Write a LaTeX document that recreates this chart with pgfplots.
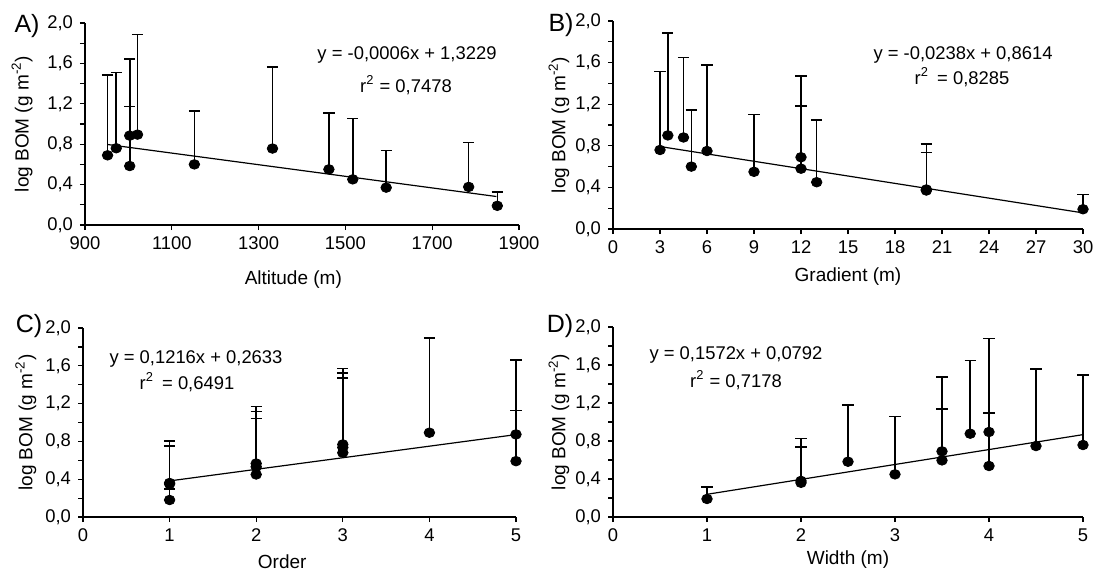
\documentclass[border=0pt]{standalone}
\usepackage{fontspec}
\setmainfont{Liberation Sans}
\usepackage{pgfplots}
\pgfplotsset{compat=1.18}

\pgfplotsset{
  bomaxis/.style={
    scale only axis,
    axis lines=left,
    axis line style={-, line width=0.6pt},
    tick align=outside,
    major tick length=2.5pt,
    minor tick length=2.5pt,
    tick style={line width=0.6pt, black},
    ymin=0, ymax=2,
    ytick={0,0.4,0.8,1.2,1.6,2.0},
    minor y tick num=1,
    yticklabel style={/pgf/number format/.cd, fixed, fixed zerofill, precision=1, use comma},
    xticklabel style={/pgf/number format/.cd, fixed, 1000 sep={}},
    /pgf/number format/assume math mode=true,
    tick label style={font=\fontsize{9.2}{10}\selectfont},
    label style={font=\fontsize{9.5}{11}\selectfont},
    ylabel={log BOM (g m\textsuperscript{-2})},
    clip=false,
  },
  pts/.style={
    only marks, mark=*, mark size=2.4pt, black,
    mark options={xscale=1.1},
    error bars/.cd, y dir=plus, y explicit,
    error bar style={line width=0.8pt, black},
    error mark options={rotate=90, line width=0.8pt, mark size=2.8pt, black},
  },
  fit/.style={no marks, black, line width=0.6pt},
}

\begin{document}
\begin{tikzpicture}
\useasboundingbox (0,0) rectangle (548pt,287pt);

% A) altitude
\begin{axis}[bomaxis,
    at={(42.5pt,174.5pt)}, anchor=south west,
    width=217pt, height=101pt,
    xmin=900, xmax=1900, xtick={900,1100,1300,1500,1700,1900},
    xlabel={Altitude (m)},
    xlabel style={at={(axis description cs:0.48,-0.272)}, anchor=center},
    ylabel style={at={(axis description cs:-0.145,0.5)}, anchor=center},
]
\addplot[pts] table[x=x, y=y, y error=e] {
x y e
952 0.69 0.795
972 0.76 0.75
1003 0.885 0.76
1003 0.584 0.59
1021 0.895 0.99
1152 0.60 0.53
1332 0.757 0.807
1462 0.551 0.557
1517 0.452 0.604
1594 0.37 0.368
1784 0.377 0.439
1850 0.19 0.135
};
\addplot[fit] coordinates {(952,0.797) (1848,0.282)};
\end{axis}

% B) gradient
\begin{axis}[bomaxis,
    at={(306.5pt,172.5pt)}, anchor=south west,
    width=235pt, height=104pt,
    xmin=0, xmax=30, xtick={0,3,6,9,12,15,18,21,24,27,30},
    xlabel={Gradient (m)},
    xlabel style={at={(axis description cs:0.5,-0.23)}, anchor=center},
    ylabel style={at={(axis description cs:-0.115,0.5)}, anchor=center},
]
\addplot[pts] table[x=x, y=y, y error=e] {
x y e
3.0 0.76 0.755
3.5 0.90 0.983
4.5 0.88 0.77
5.0 0.60 0.546
6.0 0.75 0.826
9.0 0.55 0.55
12.0 0.69 0.779
12.0 0.58 0.604
13.0 0.45 0.599
20.0 0.38 0.436
20.0 0.37 0.365
30.0 0.19 0.14
};
\addplot[fit] coordinates {(3,0.793) (30,0.155)};
\end{axis}

% C) order
\begin{axis}[bomaxis,
    at={(41.5pt,28.5pt)}, anchor=south west,
    width=216.5pt, height=94.5pt,
    xmin=0, xmax=5, xtick={0,1,2,3,4,5},
    xlabel={Order},
    xlabel style={at={(axis description cs:0.46,-0.235)}, anchor=center},
    ylabel style={at={(axis description cs:-0.132,0.5)}, anchor=center},
]
\addplot[pts] table[x=x, y=y, y error=e] {
x y e
1 0.36 0.447
1 0.35 0.40
1 0.18 0.114
2 0.566 0.602
2 0.531 0.584
2 0.45 0.594
3 0.768 0.804
3 0.736 0.786
3 0.68 0.789
4 0.892 1.002
5 0.874 0.786
5 0.591 0.535
};
\addplot[fit] coordinates {(1,0.382) (5,0.872)};
\end{axis}

% D) width
\begin{axis}[bomaxis,
    at={(306.5pt,28.5pt)}, anchor=south west,
    width=235pt, height=95pt,
    xmin=0, xmax=5, xtick={0,1,2,3,4,5},
    xlabel={Width (m)},
    xlabel style={at={(axis description cs:0.5,-0.225)}, anchor=center},
    ylabel style={at={(axis description cs:-0.115,0.5)}, anchor=center},
]
\addplot[pts] table[x=x, y=y, y error=e] {
x y e
1 0.19 0.126
2 0.38 0.445
2 0.36 0.38
2.5 0.582 0.60
3 0.449 0.607
3.5 0.691 0.783
3.5 0.596 0.544
3.8 0.877 0.769
4 0.895 0.982
4 0.537 0.558
4.5 0.747 0.814
5 0.758 0.737
};
\addplot[fit] coordinates {(1,0.239) (5,0.867)};
\end{axis}

% equations and panel letters
\begin{scope}[every node/.style={font=\fontsize{9.2}{10}\selectfont, inner sep=0pt}]
\node at (203.5pt,259.5pt) {y = -0,0006x + 1,3229};
\node at (203pt,244.5pt) {r\textsuperscript{2} = 0,7478};
\node at (481.5pt,259.5pt) {y = -0,0238x + 0,8614};
\node at (481pt,248.5pt) {r\textsuperscript{2}\, = 0,8285};
\node at (98pt,107.5pt) {y = 0,1216x + 0,2633};
\node at (93.5pt,96pt) {r\textsuperscript{2}\, = 0,6491};
\node at (368pt,109.5pt) {y = 0,1572x + 0,0792};
\node at (368pt,97pt) {r\textsuperscript{2} = 0,7178};
\end{scope}
\begin{scope}[every node/.style={font=\fontsize{12.5}{14}\selectfont, inner sep=0pt}]
\node at (13.5pt,274pt) {A)};
\node at (280.5pt,274.5pt) {B)};
\node at (14.5pt,124pt) {C)};
\node at (280pt,124pt) {D)};
\end{scope}
\end{tikzpicture}
\end{document}
